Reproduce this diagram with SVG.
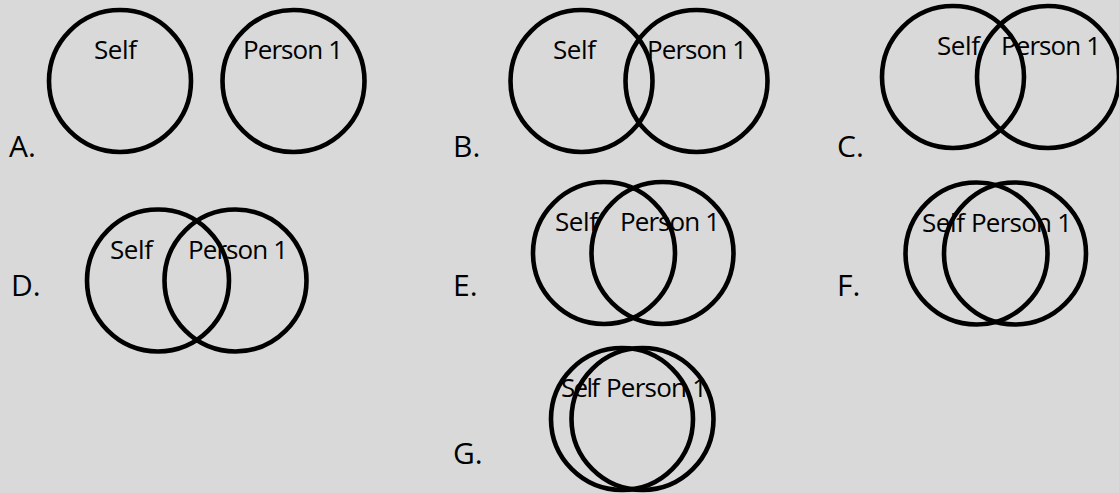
<svg xmlns="http://www.w3.org/2000/svg" width="1119" height="493" viewBox="0 0 1119 493">
<style>
.bg{fill:#d9d9d9}
.c{fill:none;stroke:#000;stroke-width:4.6}
.t{font-family:"Open Sans","Liberation Sans",sans-serif;font-size:26px;fill:#000}
.l{font-family:"Open Sans","Liberation Sans",sans-serif;font-size:30px;fill:#000}
</style>
<rect class="bg" x="0" y="0" width="1119" height="493"/>
<g id="panelA">
<text class="l" x="9" y="157">A.</text>
<text class="t" x="94" y="59" textLength="43">Self</text>
<text class="t" x="243" y="59" textLength="100">Person 1</text>
<circle class="c" cx="120" cy="81" r="71"/>
<circle class="c" cx="293.5" cy="81" r="71"/>
</g>
<g id="panelB">
<text class="l" x="453" y="157">B.</text>
<text class="t" x="553" y="59" textLength="43">Self</text>
<text class="t" x="647" y="59" textLength="100">Person 1</text>
<circle class="c" cx="581.5" cy="81" r="71"/>
<circle class="c" cx="696.5" cy="81" r="71"/>
</g>
<g id="panelC">
<text class="l" x="837" y="157">C.</text>
<text class="t" x="937" y="55" textLength="43">Self</text>
<text class="t" x="1001" y="55" textLength="100">Person 1</text>
<circle class="c" cx="953" cy="77" r="71"/>
<circle class="c" cx="1048" cy="77" r="71"/>
</g>
<g id="panelD">
<text class="l" x="11" y="296">D.</text>
<text class="t" x="110" y="259" textLength="43">Self</text>
<text class="t" x="188" y="259" textLength="100">Person 1</text>
<circle class="c" cx="158" cy="280.5" r="71"/>
<circle class="c" cx="235.5" cy="280.5" r="71"/>
</g>
<g id="panelE">
<text class="l" x="453" y="296">E.</text>
<text class="t" x="555" y="231" textLength="43">Self</text>
<text class="t" x="620" y="231" textLength="100">Person 1</text>
<circle class="c" cx="604" cy="253" r="71"/>
<circle class="c" cx="662.5" cy="253" r="71"/>
</g>
<g id="panelF">
<text class="l" x="837" y="296">F.</text>
<text class="t" x="922" y="232" textLength="43">Self</text>
<text class="t" x="971" y="232" textLength="101">Person 1</text>
<circle class="c" cx="976.5" cy="253.5" r="71"/>
<circle class="c" cx="1015" cy="253.5" r="71"/>
</g>
<g id="panelG">
<text class="l" x="453" y="464">G.</text>
<text class="t" x="561" y="397" textLength="39">Self</text>
<text class="t" x="606" y="397" textLength="101">Person 1</text>
<circle class="c" cx="622" cy="419" r="71"/>
<circle class="c" cx="642.5" cy="419" r="71"/>
</g>
<g id="connectors"></g>
</svg>
